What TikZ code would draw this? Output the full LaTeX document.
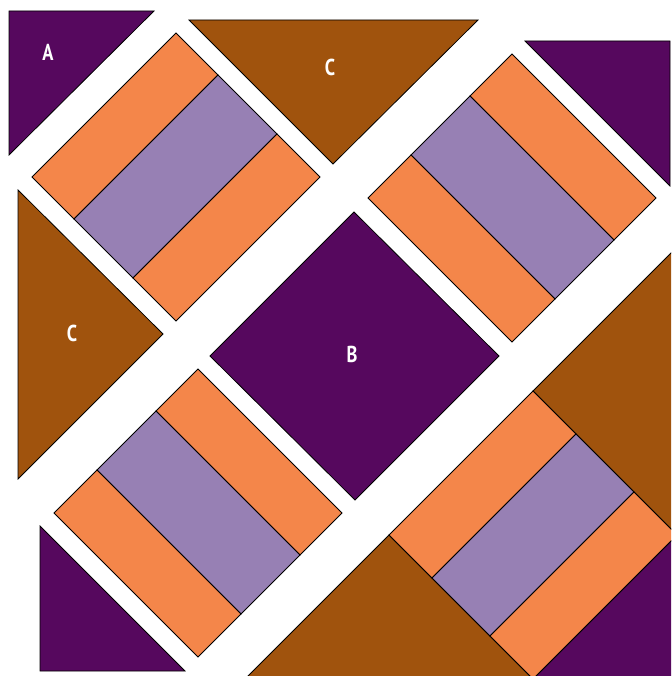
\documentclass[tikz,border=0pt]{standalone}
\usepackage{fontspec}
\newfontfamily\lblfont[FakeStretch=0.8]{PT Sans}
\definecolor{plum}{HTML}{56085E}
\definecolor{rust}{HTML}{A0530D}
\definecolor{peach}{HTML}{F4864A}
\definecolor{lilac}{HTML}{9780B4}
\begin{document}
\begin{tikzpicture}[x=1pt,y=-1pt,
  piece/.style={draw=black,line width=0.8pt,line join=miter},
  lbl/.style={text=white,font=\lblfont\bfseries\fontsize{23}{23}\selectfont,inner sep=0pt}]
\useasboundingbox (0,0) rectangle (671,676);
\clip (0,0) rectangle (671,676);
% corner triangles A
\draw[piece,fill=plum] (9,11) -- (154,11) -- (9,155) -- cycle;
\draw[piece,fill=plum] (525,41) -- (670,41) -- (670,186) -- cycle;
\draw[piece,fill=plum] (40,526) -- (40,671) -- (185,671) -- cycle;
% side triangles C
\draw[piece,fill=rust] (189,20) -- (478,20) -- (333,164) -- cycle;
\draw[piece,fill=rust] (18,190) -- (163,334) -- (18,479) -- cycle;
% centre square B
\draw[piece,fill=plum] (354,212) -- (499,356) -- (355,500) -- (210,356) -- cycle;
% strip block, top left
\draw[piece,fill=peach] (176,33) -- (218,75) -- (74,219) -- (32,177) -- cycle;
\draw[piece,fill=lilac] (218,75) -- (277,134) -- (133,278) -- (74,219) -- cycle;
\draw[piece,fill=peach] (277,134) -- (320,177) -- (176,321) -- (133,278) -- cycle;
% strip block, top right
\draw[piece,fill=peach] (512,54) -- (656,198) -- (614,240) -- (470,96) -- cycle;
\draw[piece,fill=lilac] (470,96) -- (614,240) -- (555,299) -- (411,155) -- cycle;
\draw[piece,fill=peach] (411,155) -- (555,299) -- (512,342) -- (368,198) -- cycle;
% strip block, bottom left
\draw[piece,fill=peach] (198,369) -- (342,513) -- (300,555) -- (156,411) -- cycle;
\draw[piece,fill=lilac] (156,411) -- (300,555) -- (241,614) -- (97,470) -- cycle;
\draw[piece,fill=peach] (97,470) -- (241,614) -- (198,657) -- (54,513) -- cycle;
% sewn corner, bottom right
\draw[piece,fill=rust] (533,391) -- (690,234) -- (690,548) -- cycle;
\draw[piece,fill=rust] (389,535) -- (548,694) -- (230,694) -- cycle;
\draw[piece,fill=plum] (690,522) -- (690,700) -- (512,700) -- cycle;
\draw[piece,fill=peach] (533,391) -- (576,434) -- (432,578) -- (389,535) -- cycle;
\draw[piece,fill=lilac] (576,434) -- (634,492) -- (490,636) -- (432,578) -- cycle;
\draw[piece,fill=peach] (634,492) -- (677,535) -- (533,679) -- (490,636) -- cycle;
% labels
\node[lbl] (labelA) at (48,52) {A};
\node[lbl] (labelCtop) at (330,67) {C};
\node[lbl] (labelCleft) at (72,333) {C};
\node[lbl] (labelB) at (352,354) {B};
\end{tikzpicture}
\end{document}
